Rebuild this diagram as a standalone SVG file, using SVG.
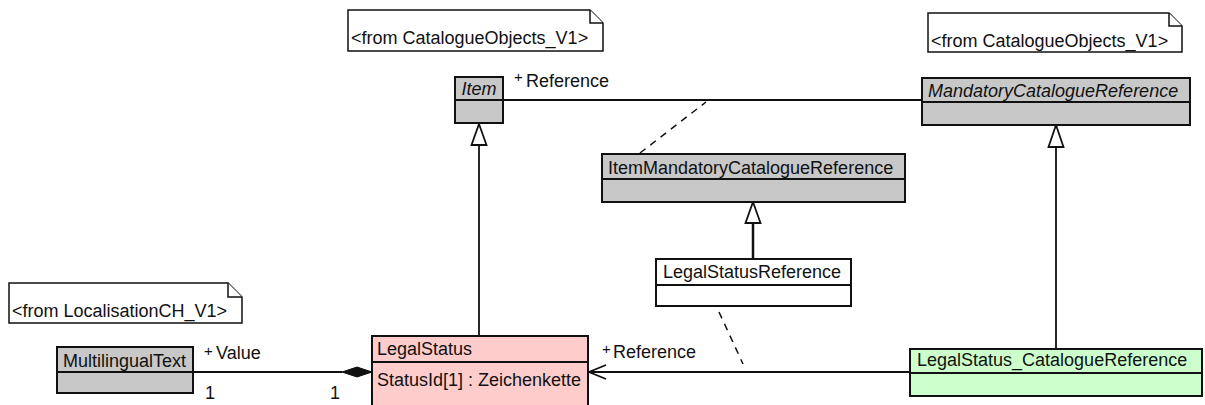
<svg xmlns="http://www.w3.org/2000/svg" width="1205" height="405" viewBox="0 0 1205 405">
<style>
text{font-family:"Liberation Sans",Arial,sans-serif;font-size:18px;fill:#111}
.it{font-style:italic}
.sm{font-size:15px}
.box{stroke:#111;stroke-width:2}
.gray{fill:#C8C8C8}
.pink{fill:#FFCCCC}
.green{fill:#CCFFCC}
.white{fill:#fff}
.note{fill:#fff;stroke:#111;stroke-width:1.5}
.ln{fill:none;stroke:#111;stroke-width:1.8}
.dash{fill:none;stroke:#111;stroke-width:1.5;stroke-dasharray:7,6}
.tri{fill:#fff;stroke:#111;stroke-width:1.8}
</style>
<g id="note1">
<path class="note" d="M348,10 H590 L603,23 V51 H348 Z"/>
<path class="note" d="M590,10 V23 H603"/>
<text x="351" y="44">&lt;from CatalogueObjects_V1&gt;</text>
</g>
<g id="note2">
<path class="note" d="M928,13 H1169 L1182,26 V52 H928 Z"/>
<path class="note" d="M1169,13 V26 H1182"/>
<text x="931" y="47">&lt;from CatalogueObjects_V1&gt;</text>
</g>
<g id="note3">
<path class="note" d="M9,283 H228 L242,297 V323 H9 Z"/>
<path class="note" d="M228,283 V297 H242"/>
<text x="12" y="317">&lt;from LocalisationCH_V1&gt;</text>
</g>
<g id="connectors">
<line class="ln" x1="503" y1="100" x2="922" y2="100"/>
<text class="sm" x="514" y="82">+</text>
<text x="526" y="87">Reference</text>
<line class="dash" x1="640" y1="153" x2="706" y2="102"/>
<line class="dash" x1="719" y1="312" x2="743" y2="364"/>
<line class="ln" x1="479" y1="145" x2="479" y2="336"/>
<path class="tri" d="M479,124 L486.5,145 H471.5 Z"/>
<line class="ln" x1="1056" y1="147" x2="1056" y2="349"/>
<path class="tri" d="M1056,125 L1063.5,147 H1048.5 Z"/>
<line class="ln" style="stroke-width:2.5" x1="753" y1="223" x2="753" y2="259"/>
<path class="tri" d="M753,202 L760.5,223 H745.5 Z"/>
<line class="ln" x1="589" y1="372" x2="910" y2="372"/>
<path class="ln" d="M606,365 L589,372 L606,379"/>
<text class="sm" x="602" y="354">+</text>
<text x="613" y="358">Reference</text>
<line class="ln" x1="193" y1="372" x2="342" y2="372"/>
<path d="M342,372 L357,367 L372,372 L357,377 Z" fill="#111" stroke="#111" stroke-width="1"/>
<text class="sm" x="204" y="356">+</text>
<text x="216" y="359">Value</text>
<text x="205" y="399">1</text>
<text x="330" y="399">1</text>
</g>
<g id="Item">
<rect class="box gray" x="455" y="77" width="48" height="46"/>
<line class="box" x1="455" y1="100" x2="503" y2="100"/>
<text class="it" x="479" y="95" text-anchor="middle">Item</text>
</g>
<g id="MandatoryCatalogueReference">
<rect class="box gray" x="922" y="78" width="268" height="47"/>
<line class="box" x1="922" y1="102" x2="1190" y2="102"/>
<text class="it" x="928" y="97">MandatoryCatalogueReference</text>
</g>
<g id="ItemMandatoryCatalogueReference">
<rect class="box gray" x="602" y="154" width="303" height="48"/>
<line class="box" x1="602" y1="179" x2="905" y2="179"/>
<text x="608" y="174">ItemMandatoryCatalogueReference</text>
</g>
<g id="LegalStatusReference">
<rect class="box white" x="656" y="259" width="195" height="47"/>
<line class="box" x1="656" y1="285" x2="851" y2="285"/>
<text x="663" y="278">LegalStatusReference</text>
</g>
<g id="LegalStatus">
<rect class="box pink" x="372" y="336" width="216" height="90"/>
<line class="box" x1="372" y1="362" x2="588" y2="362"/>
<text x="377" y="355">LegalStatus</text>
<text x="377" y="386">StatusId[1] : Zeichenkette</text>
</g>
<g id="LegalStatus_CatalogueReference">
<rect class="box green" x="910" y="349" width="292" height="47"/>
<line class="box" x1="910" y1="373" x2="1202" y2="373"/>
<text x="917" y="366">LegalStatus_CatalogueReference</text>
</g>
<g id="MultilingualText">
<rect class="box gray" x="57" y="347" width="136" height="46"/>
<line class="box" x1="57" y1="372" x2="193" y2="372"/>
<text x="63" y="367">MultilingualText</text>
</g>
</svg>
